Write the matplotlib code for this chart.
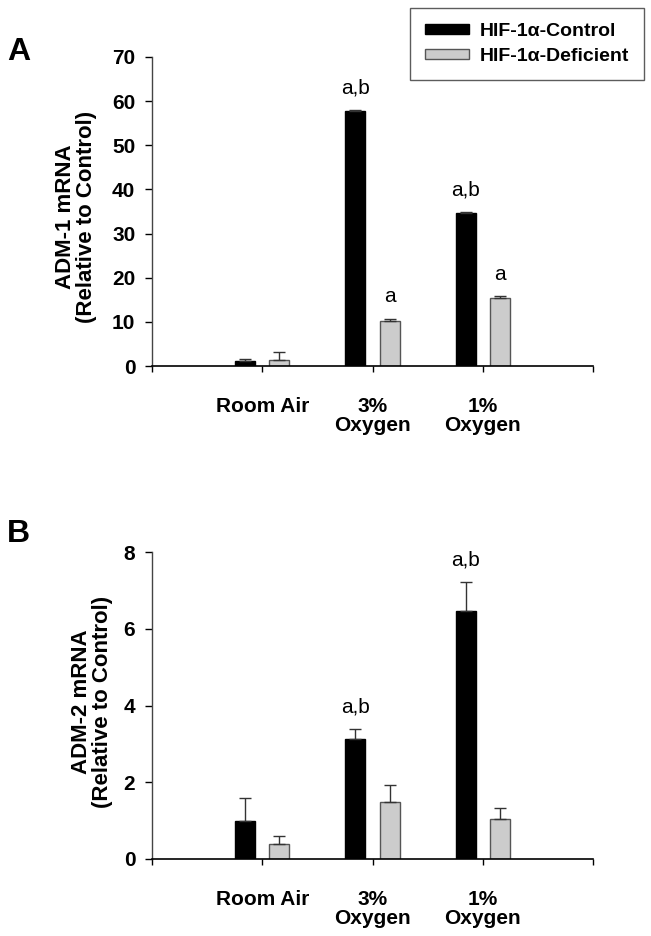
import matplotlib
matplotlib.use("Agg")
import matplotlib.pyplot as plt
import numpy as np

plt.rcParams['font.family'] = ['Liberation Sans', 'DejaVu Sans']

categories = ["Room Air", "3%\nOxygen", "1%\nOxygen"]
series_names = ["HIF-1\u03b1-Control", "HIF-1\u03b1-Deficient"]

adm1_control = [1.1, 57.8, 34.7]
adm1_control_err = [0.5, 0.2, 0.3]
adm1_deficient = [1.3, 10.3, 15.5]
adm1_deficient_err = [1.8, 0.35, 0.25]
adm1_control_sig = ["", "a,b", "a,b"]
adm1_deficient_sig = ["", "a", "a"]

adm2_control = [0.98, 3.14, 6.46]
adm2_control_err = [0.6, 0.24, 0.77]
adm2_deficient = [0.4, 1.49, 1.05]
adm2_deficient_err = [0.19, 0.43, 0.29]
adm2_control_sig = ["", "a,b", "a,b"]
adm2_deficient_sig = ["", "", ""]

W, H = 651, 936
fig = plt.figure(figsize=(W / 100, H / 100), dpi=100)

def px_axes(left, right, top, bottom):
    return fig.add_axes([left / W, 1 - bottom / H, (right - left) / W, (bottom - top) / H])

axA = px_axes(152, 593, 57, 366)
axB = px_axes(152, 593, 552, 859)

colors = ["#000000", "#cccccc"]
edges = ["#000000", "#555555"]
bw = 0.18
off = 0.155

def draw(ax, c, ce, d, de, csig, dsig, ymax, ystep, ann_off):
    x = np.arange(1, len(categories) + 1)
    for vals, errs, sig, dx, col, ec, name in [
        (c, ce, csig, -off, colors[0], edges[0], series_names[0]),
        (d, de, dsig, off, colors[1], edges[1], series_names[1]),
    ]:
        ax.bar(x + dx, vals, width=bw, color=col, edgecolor=ec, linewidth=1.0,
               label=name, zorder=2)
        ax.errorbar(x + dx, vals, yerr=[np.zeros(len(vals)), errs], fmt='none',
                    ecolor='#333333', elinewidth=1.0, capsize=4, capthick=1.0, zorder=3)
        for xi, v, e, s in zip(x + dx, vals, errs, sig):
            if s:
                ax.annotate(s, (xi, v + e), xytext=(0, ann_off), textcoords='offset points',
                            ha='center', va='bottom', fontsize=15)
    ax.set_xlim(0, 4)
    ax.set_ylim(0, ymax)
    ax.set_yticks(np.arange(0, ymax + ystep / 2, ystep))
    ax.set_xticks([0, 1, 2, 3, 4])
    ax.set_xticklabels([""] + categories + [""], fontsize=15, fontweight='bold',
                       linespacing=1.0)
    for lab in ax.get_yticklabels():
        lab.set_fontweight('bold')
        lab.set_fontsize(15)
    ax.tick_params(axis='x', length=4, direction='out', pad=18, width=1)
    ax.tick_params(axis='y', length=5, direction='out', pad=7, width=1)
    for s in ['top', 'right']:
        ax.spines[s].set_visible(False)
    ax.spines['left'].set_color('#444444')
    ax.spines['bottom'].set_color('#000000')
    ax.spines['left'].set_linewidth(1.0)
    ax.spines['bottom'].set_linewidth(1.2)

draw(axA, adm1_control, adm1_control_err, adm1_deficient, adm1_deficient_err,
     adm1_control_sig, adm1_deficient_sig, 70, 10, 9)
draw(axB, adm2_control, adm2_control_err, adm2_deficient, adm2_deficient_err,
     adm2_control_sig, adm2_deficient_sig, 8, 2, 9)

fig.text(76 / W, 1 - 217 / H, "ADM-1 mRNA\n(Relative to Control)", rotation=90,
         ha='center', va='center', fontsize=16, fontweight='bold', linespacing=1.0)
fig.text(92 / W, 1 - 702 / H, "ADM-2 mRNA\n(Relative to Control)", rotation=90,
         ha='center', va='center', fontsize=16, fontweight='bold', linespacing=1.0)

leg = axA.legend(loc='upper right', bbox_to_anchor=(644 / W, 1 - 8 / H), bbox_transform=fig.transFigure,
                 frameon=True, fancybox=False, edgecolor='#333333',
                 prop={'weight': 'bold', 'size': 14}, handlelength=2.3, handleheight=0.4,
                 borderpad=0.75, labelspacing=0.45, handletextpad=0.55, borderaxespad=0)
leg.get_frame().set_linewidth(1.0)

fig.text(7 / W, 1 - 60 / H, "A", fontsize=23, fontweight='bold', ha='left', va='baseline')
fig.text(7 / W, 1 - 542 / H, "B", fontsize=23, fontweight='bold', ha='left', va='baseline')

fig.savefig("out.png", dpi=100)
